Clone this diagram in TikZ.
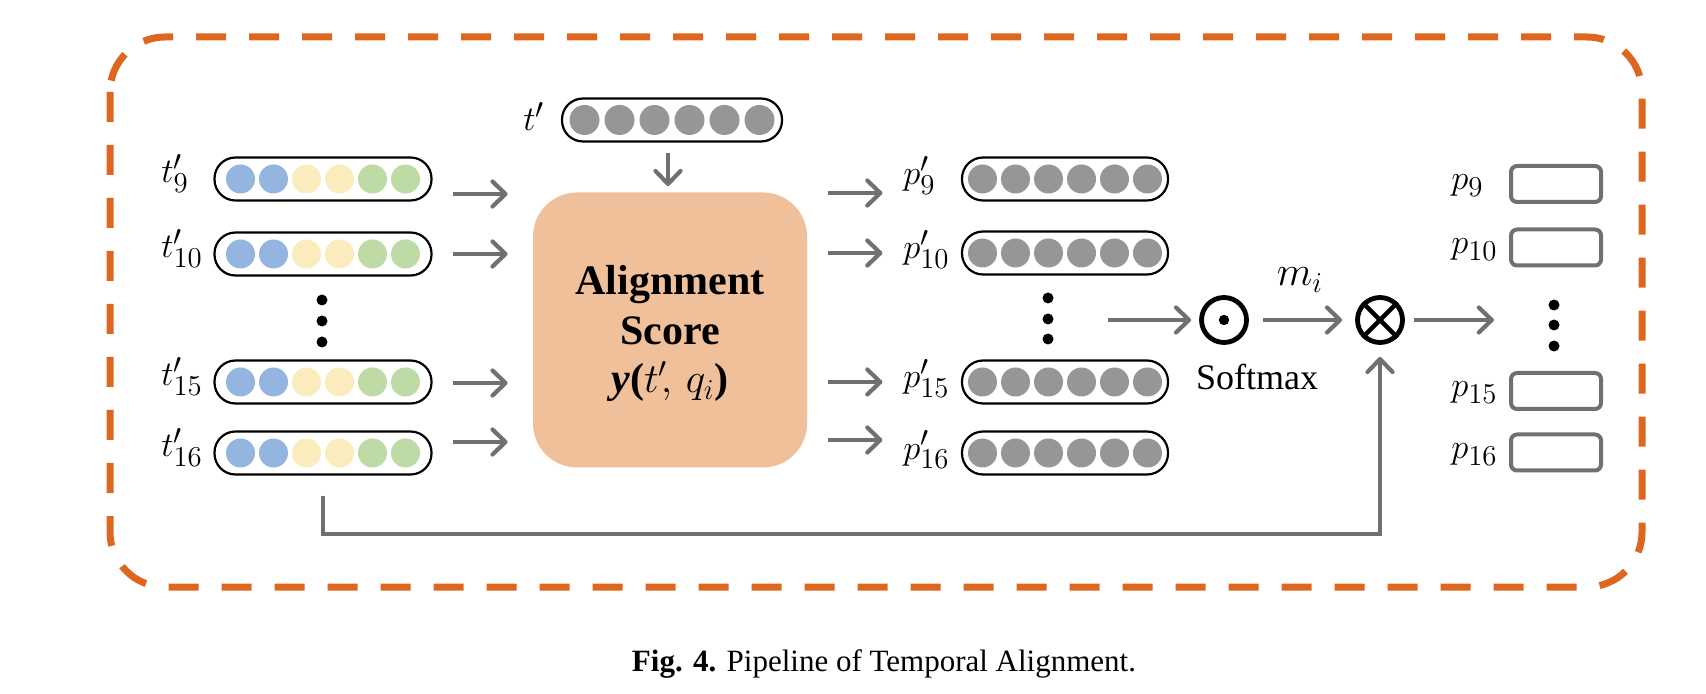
\documentclass[tikz,border=0pt]{standalone}
\usepackage{fontspec}
\setmainfont{Liberation Serif}
\usetikzlibrary{arrows.meta,calc}
\definecolor{orng}{RGB}{221,103,31}
\definecolor{arrgray}{RGB}{112,112,112}
\definecolor{cgray}{RGB}{150,150,150}
\definecolor{cblue}{RGB}{148,181,224}
\definecolor{cyel}{RGB}{251,236,190}
\definecolor{cgreen}{RGB}{190,219,166}
\definecolor{peach}{RGB}{240,192,155}
\begin{document}
\begin{tikzpicture}[x=0.5pt,y=-0.5pt,
  pill/.style={draw=black,line width=1.1pt,rounded corners=10.5pt,minimum height=21.5pt,inner sep=0pt},
  arr/.style={draw=arrgray,line width=2.1pt,-{Straight Barb[length=6.5pt,width=12.5pt,line width=2.1pt,round]}},
  mlab/.style={font=\fontsize{19}{22}\selectfont,inner sep=0pt},
  pbox/.style={draw=arrgray,line width=2pt,rounded corners=3pt,minimum width=45pt,minimum height=18pt,inner sep=0pt},
  opnode/.style={circle,draw=black,line width=2.4pt,minimum size=22.5pt,inner sep=0pt},
  scorebox/.style={fill=peach,rounded corners=22pt,minimum width=137pt,minimum height=137.5pt,inner sep=0pt},
  boxtext/.style={align=center,font=\fontsize{21}{24.5}\selectfont\bfseries,inner sep=0pt}
]
\useasboundingbox (0,0) rectangle (1706,694);
% dashed frame
\draw[orng,line width=3.5pt,dash pattern=on 15pt off 11.5pt,rounded corners=27.5pt] (110,37) rectangle (1642,587);

% left pills
\foreach \n/\y/\s in {t9/179/9,t10/254/10,t15/382/15,t16/453/16}{
  \node[pill,minimum width=108.5pt] (\n) at (323,\y) {};
  \foreach \dx/\c in {-82.5/cblue,-49.5/cblue,-16.5/cyel,16.5/cyel,49.5/cgreen,82.5/cgreen}{
    \fill[\c] ($(\n.center)+(\dx,0)$) circle (7.25pt);
  }
  \node[mlab,anchor=base west] (l\n) at (161,\y+4) {$t'_{\s}$};
}
% top pill
\node[pill,minimum width=110pt] (tp) at (672,120) {};
\foreach \dx in {-87.5,-52.5,-17.5,17.5,52.5,87.5}{
  \fill[cgray] ($(tp.center)+(\dx,0)$) circle (7.5pt);
}
\node[mlab,anchor=base west] (ltp) at (523,131) {$t'$};

% score box
\node[scorebox] (box) at (670,330) {};
\node[boxtext,anchor=base] (al) at (670,295) {Alignment};
\node[boxtext,anchor=base] (sc) at (670,345) {Score};
\node[boxtext,anchor=base] (yf) at (670,393) {\textbf{\textit{y}}\textbf{(}$t'\!,\,q_i$\textbf{)}};

% right pills
\foreach \n/\y/\s in {q9/179/9,q10/253/10,q15/382/15,q16/453/16}{
  \node[pill,minimum width=103pt] (\n) at (1065,\y) {};
  \foreach \dx in {-82.5,-49.5,-16.5,16.5,49.5,82.5}{
    \fill[cgray] ($(\n.center)+(\dx,0)$) circle (7.25pt);
  }
  \node[mlab,anchor=base west] (l\n) at (903,\y+6) {$p'_{\s}$};
}

% output boxes
\foreach \n/\y/\s in {p9/184/9,p10/247.5/10,p15/391/15,p16/452.5/16}{
  \node[pbox] (\n) at (1556,\y) {};
  \node[mlab,anchor=base west] (l\n) at (1451,\y+6) {$p_{\s}$};
}

% dots
\foreach \y in {300,321,342}{\fill (322,\y) circle (2.75pt);}
\foreach \y in {298,319,339}{\fill (1048,\y) circle (2.75pt);}
\foreach \y in {305,325,346}{\fill (1554,\y) circle (2.75pt);}

% operators
\node[opnode] (odot) at (1224,320) {};
\fill (odot.center) circle (2.6pt);
\node[opnode] (otimes) at (1380,320) {};
\draw[line width=2.2pt] (otimes.north west) -- (otimes.south east);
\draw[line width=2.2pt] (otimes.north east) -- (otimes.south west);
\node[anchor=base,inner sep=0pt] (sm) at (1257,390) {\fontsize{18}{20}\selectfont Softmax};
\node[mlab,font=\fontsize{21}{24}\selectfont] (mi) at (1300,280) {$m_i$};

% arrows left -> box
\draw[arr] ($(t9.east)+(20,15)$) -- ++(55,0);
\draw[arr] ($(t10.east)+(20,0)$) -- ++(55,0);
\draw[arr] ($(t15.east)+(20,1)$) -- ++(55,0);
\draw[arr] ($(t16.east)+(20,-11)$) -- ++(55,0);
% top arrow
\draw[arr] ($(tp.south)+(-4,10)$) -- ($(box.north)+(-2,-6)$);
% box -> right
\draw[arr] ($(box.east|-q9)+(21,14)$) -- ++(54,0);
\draw[arr] ($(box.east|-q10)+(21,0)$) -- ++(54,0);
\draw[arr] ($(box.east|-q15)+(21,0)$) -- ++(54,0);
\draw[arr] ($(box.east|-q16)+(21,-13)$) -- ++(54,0);
% to operators
\draw[arr] ($(odot.west)+(-91,0)$) -- ($(odot.west)+(-8,0)$);
\draw[arr] ($(odot.east)+(14,0)$) -- ($(otimes.west)+(-13,0)$);
\draw[arr] ($(otimes.east)+(9,0)$) -- ++(80,0);
\draw[arr] ($(t16.south)+(0,20)$) -- ++(0,38) -| ($(otimes.south)+(0,12)$);

% caption
\node[anchor=base,inner sep=0pt] (cap) at (884,671) {\fontsize{15.5}{18}\selectfont\textbf{Fig. 4.} Pipeline of Temporal Alignment.};
\end{tikzpicture}
\end{document}
